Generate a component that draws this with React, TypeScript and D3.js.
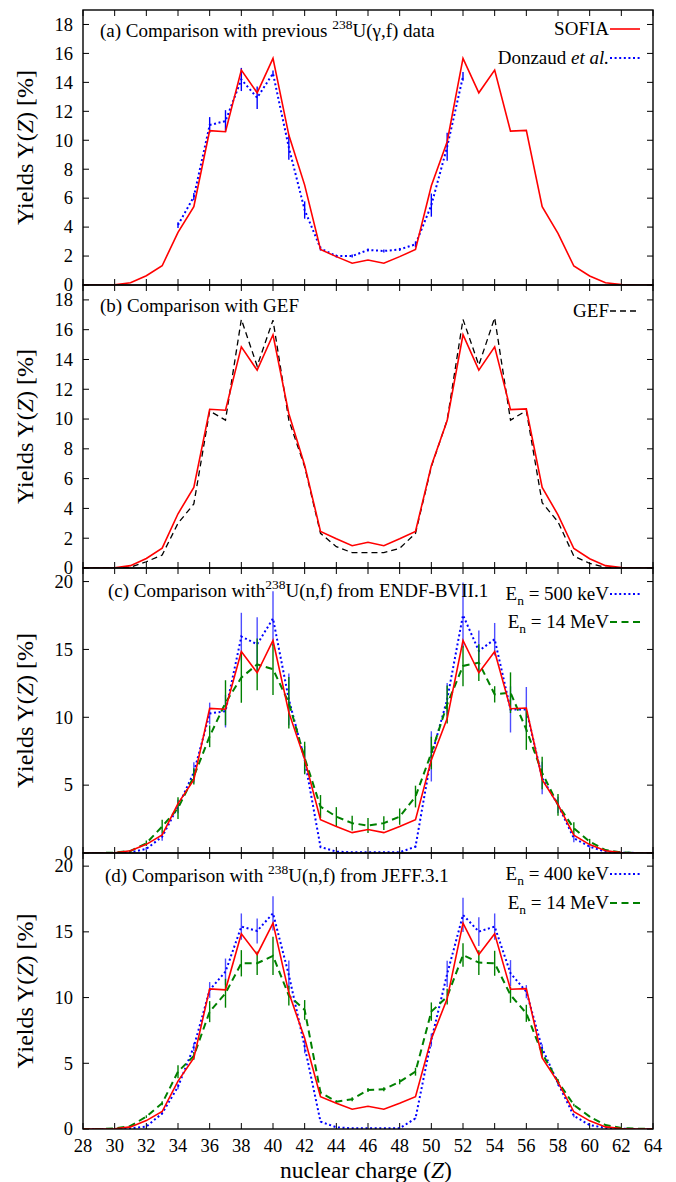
import React from "react";
import * as d3 from "d3";

// Nuclear charge grid
const Z: number[] = d3.range(28, 65);

// SOFIA 238U(gamma,f) charge yields [%]
const sofia: number[] = [
  0, 0, 0.02, 0.16, 0.64, 1.33, 3.64, 5.41, 10.66, 10.59, 14.85, 13.28, 15.66,
  10.36, 6.9, 2.46, 1.96, 1.5, 1.73, 1.5, 1.96, 2.46, 6.86, 9.9, 15.66, 13.28,
  14.85, 10.63, 10.68, 5.41, 3.57, 1.31, 0.62, 0.16, 0.03, 0, 0,
];

// Donzaud et al.
const donzaudZ: number[] = d3.range(34, 53);
const donzaud: number[] = [
  4.14, 6.1, 11.05, 11.33, 14.2, 12.94, 14.62, 9.5, 5.18, 2.53, 2.0, 2.0, 2.42,
  2.35, 2.46, 2.81, 5.52, 9.55, 14.41,
];
const donzaudErr: number[] = [
  0.2, 0.25, 0.55, 0.75, 0.8, 0.78, 0.2, 0.85, 0.6, 0.15, 0.1, 0.1, 0.1, 0.1,
  0.1, 0.2, 0.8, 0.97, 0.3,
];

// GEF
const gef: number[] = [
  0, 0, 0, 0.05, 0.42, 0.87, 3.0, 4.3, 10.54, 9.93, 16.69, 13.56, 16.64, 9.93,
  6.8, 2.33, 1.43, 1.03, 1.03, 1.03, 1.32, 2.33, 6.8, 9.93, 16.69, 13.62, 16.8,
  9.93, 10.56, 4.38, 3.1, 0.8, 0.31, 0.05, 0, 0, 0,
];

// ENDF/B-VII.1, En = 500 keV
const endf500: number[] = [
  0, 0, 0, 0.05, 0.3, 1.2, 3.42, 5.94, 10.28, 10.45, 15.95, 15.38, 17.28, 11.32,
  6.88, 0.45, 0.1, 0.05, 0.05, 0.05, 0.05, 0.47, 7.12, 11.32, 17.53, 14.89,
  15.75, 10.58, 10.58, 5.52, 3.55, 1.09, 0.47, 0.1, 0.03, 0, 0,
];
const endf500Err: number[] = [
  0, 0, 0, 0, 0.1, 0.3, 0.5, 0.74, 0.8, 1.2, 1.75, 2.0, 2.0, 1.9, 1.0, 0.1,
  0.02, 0.02, 0.02, 0.02, 0.02, 0.1, 1.85, 1.2, 2.4, 1.5, 1.2, 1.7, 1.65, 1.2,
  0.6, 0.3, 0.1, 0, 0, 0, 0,
];

// ENDF/B-VII.1, En = 14 MeV
const endf14: number[] = [
  0, 0, 0.03, 0.15, 0.72, 1.95, 3.3, 5.64, 8.6, 11.07, 12.92, 13.9, 13.54,
  11.07, 7.0, 3.42, 2.68, 2.2, 2.02, 2.2, 2.68, 4.16, 7.37, 10.95, 13.78, 14.03,
  11.69, 11.81, 9.1, 5.9, 3.55, 1.82, 0.84, 0.22, 0.05, 0, 0,
];
const endf14Err: number[] = [
  0, 0, 0, 0.05, 0.2, 0.5, 0.8, 0.6, 0.8, 1.66, 1.85, 1.9, 1.9, 1.9, 1.2, 0.85,
  0.7, 0.55, 0.55, 0.5, 0.6, 0.8, 1.2, 1.4, 1.5, 1.35, 0.6, 1.5, 1.5, 1.2, 0.8,
  0.45, 0.2, 0.05, 0, 0, 0,
];

// JEFF-3.1, En = 400 keV
const jeff400: number[] = [
  0, 0, 0, 0.05, 0.18, 1.19, 3.22, 6.26, 10.58, 11.97, 15.4, 15.07, 16.41,
  11.72, 6.26, 0.56, 0.13, 0.05, 0.05, 0.05, 0.05, 0.81, 6.77, 11.8, 16.29,
  15.02, 15.4, 11.85, 10.45, 6.14, 3.48, 1.0, 0.3, 0.08, 0.02, 0, 0,
];
const jeff400Err: number[] = [
  0, 0, 0, 0, 0, 0.1, 0.2, 0.3, 0.6, 1.0, 1.0, 0.95, 1.3, 1.1, 0.5, 0.05, 0, 0,
  0, 0, 0, 0.05, 0.5, 1.0, 1.3, 1.1, 1.0, 1.0, 0.5, 0.3, 0.2, 0.1, 0, 0, 0, 0,
  0,
];

// JEFF-3.1, En = 14 MeV
const jeff14: number[] = [
  0, 0, 0.05, 0.23, 0.94, 1.96, 4.36, 5.56, 8.93, 10.33, 12.61, 12.61, 13.17,
  10.15, 9.06, 2.77, 2.08, 2.26, 2.97, 3.02, 3.6, 4.36, 8.93, 10.07, 13.24,
  12.66, 12.61, 10.2, 8.8, 5.76, 3.6, 1.83, 0.94, 0.3, 0.08, 0.02, 0,
];
const jeff14Err: number[] = [
  0, 0, 0, 0.05, 0.1, 0.15, 0.5, 0.3, 0.8, 1.1, 1.0, 0.9, 1.45, 0.75, 0.75,
  0.15, 0.1, 0.15, 0.15, 0.15, 0.2, 0.3, 0.7, 0.6, 0.9, 0.95, 0.95, 0.6, 0.65,
  0.3, 0.2, 0.1, 0.05, 0, 0, 0, 0,
];

// Axis ticks
const xTicks: number[] = d3.range(28, 65, 2);
const yTicksAB: number[] = d3.range(0, 19, 2);
const yTicksCD: number[] = [0, 5, 10, 15, 20];

const FONT = "Liberation Serif, Times New Roman, DejaVu Serif, serif";
const RED = "#ff0000";
const BLUE = "#0000ff";
const GREEN = "#008000";

const W = 676;
const H = 1182;
const LEFT = 83;
const RIGHT = 653;
const LABEL_SIZE = 19;

const x = d3.scaleLinear().domain([28, 64]).range([LEFT, RIGHT]);

type Series = {
  zs: number[];
  values: number[];
  errs?: number[];
  color: string;
  width: number;
  dash?: string;
  errColor?: string;
};

type LegendItem = { label: React.ReactNode; color: string; width: number; dash?: string; y: number; baseline: number };

type PanelProps = {
  id: string;
  top: number;
  bottom: number;
  ymax: number;
  yTicks: number[];
  title: React.ReactNode;
  titleX: number;
  titleY: number;
  series: Series[];
  legend: LegendItem[];
  showX: boolean;
};

const txt: React.CSSProperties = { fontFamily: FONT };

function Panel(p: PanelProps) {
  const y = d3.scaleLinear().domain([0, p.ymax]).range([p.bottom, p.top]);
  const clipId = `clip-${p.id}`;
  const tickLen = 6;
  const mid = (p.top + p.bottom) / 2;
  return (
    <g>
      <defs>
        <clipPath id={clipId}>
          <rect x={LEFT} y={p.top} width={RIGHT - LEFT} height={p.bottom - p.top} />
        </clipPath>
      </defs>
      {/* ticks, inward on all four sides */}
      {xTicks.map((t) => (
        <g key={`xt${t}`} stroke="#000" strokeWidth={1}>
          <line x1={x(t)} x2={x(t)} y1={p.bottom} y2={p.bottom - tickLen} />
          <line x1={x(t)} x2={x(t)} y1={p.top} y2={p.top + tickLen} />
        </g>
      ))}
      {p.yTicks.map((t) => (
        <g key={`yt${t}`} stroke="#000" strokeWidth={1}>
          <line x1={LEFT} x2={LEFT + tickLen} y1={y(t)} y2={y(t)} />
          <line x1={RIGHT} x2={RIGHT - tickLen} y1={y(t)} y2={y(t)} />
        </g>
      ))}
      {p.yTicks.map((t) => (
        <text
          key={`yl${t}`}
          x={73}
          y={y(t)}
          dy="0.34em"
          textAnchor="end"
          style={txt}
          fontSize={18.5}
          fill="#000"
        >
          {t}
        </text>
      ))}
      {p.showX &&
        xTicks.map((t) => (
          <text
            key={`xl${t}`}
            x={x(t)}
            y={p.bottom + 23}
            textAnchor="middle"
            style={txt}
            fontSize={18.5}
            fill="#000"
          >
            {t}
          </text>
        ))}
      {/* y axis title */}
      <text
        transform={`translate(33,${mid}) rotate(-90)`}
        textAnchor="middle"
        style={txt}
        fontSize={24}
        fill="#000"
      >
        Yields Y(<tspan fontStyle="italic">Z</tspan>) [%]
      </text>
      {/* data */}
      <g clipPath={`url(#${clipId})`}>
        {p.series.map((s, si) => {
          const line = d3
            .line<number>()
            .x((_, i) => x(s.zs[i]))
            .y((d) => y(d));
          return (
            <g key={`s${si}`}>
              {s.errs &&
                s.values.map((v, i) =>
                  s.errs![i] > 0.04 ? (
                    <line
                      key={`e${i}`}
                      x1={x(s.zs[i])}
                      x2={x(s.zs[i])}
                      y1={y(v - s.errs![i])}
                      y2={y(v + s.errs![i])}
                      stroke={s.errColor ?? s.color}
                      strokeWidth={1.4}
                    />
                  ) : null
                )}
              <path
                d={line(s.values) ?? ""}
                fill="none"
                stroke={s.color}
                strokeWidth={s.width}
                strokeDasharray={s.dash}
                strokeLinejoin="miter"
              />
            </g>
          );
        })}
      </g>
      {/* frame */}
      <rect
        x={LEFT}
        y={p.top}
        width={RIGHT - LEFT}
        height={p.bottom - p.top}
        fill="none"
        stroke="#000"
        strokeWidth={1.4}
      />
      {/* panel title */}
      <text x={p.titleX} y={p.titleY} style={txt} fontSize={LABEL_SIZE} fill="#000">
        {p.title}
      </text>
      {/* legend */}
      {p.legend.map((l, i) => (
        <g key={`lg${i}`}>
          <text
            x={609}
            y={l.baseline}
            textAnchor="end"
            style={txt}
            fontSize={LABEL_SIZE}
            fill="#000"
          >
            {l.label}
          </text>
          <line
            x1={610}
            x2={640}
            y1={l.y}
            y2={l.y}
            stroke={l.color}
            strokeWidth={l.width}
            strokeDasharray={l.dash}
          />
        </g>
      ))}
    </g>
  );
}

const sup = (s: string) => (
  <tspan fontSize={13.5} dy={-8}>
    {s}
  </tspan>
);

const sub = (s: string) => (
  <tspan fontSize={13.5} dy={5}>
    {s}
  </tspan>
);

export default function App() {
  const redSeries: Series = { zs: Z, values: sofia, color: RED, width: 1.6 };
  const blueDots = "2,2.6";
  const greenDash = "7,4.5";
  const blackDash = "6,4";

  return (
    <svg width={W} height={H} style={{ display: "block", position: "absolute", left: 0, top: 0 }}>
      <rect width={W} height={H} fill="#fff" />
      <Panel
        id="a"
        top={10}
        bottom={285}
        ymax={19}
        yTicks={yTicksAB}
        titleX={100}
        titleY={37}
        title={
          <>
            (a) Comparison with previous {sup("238")}
            <tspan dy={8}>U(γ,f) data</tspan>
          </>
        }
        series={[
          {
            zs: donzaudZ,
            values: donzaud,
            errs: donzaudErr,
            color: BLUE,
            width: 2,
            dash: blueDots,
          },
          redSeries,
        ]}
        legend={[
          { label: "SOFIA", color: RED, width: 1.6, y: 29, baseline: 35 },
          {
            label: (
              <>
                Donzaud <tspan fontStyle="italic">et al.</tspan>
              </>
            ),
            color: BLUE,
            width: 2,
            dash: blueDots,
            y: 58,
            baseline: 64,
          },
        ]}
        showX={false}
      />
      <Panel
        id="b"
        top={285}
        bottom={568}
        ymax={19}
        yTicks={yTicksAB}
        titleX={100}
        titleY={312}
        title={<>(b) Comparison with GEF</>}
        series={[{ zs: Z, values: gef, color: "#000", width: 1.3, dash: blackDash }, redSeries]}
        legend={[{ label: "GEF", color: "#000", width: 1.3, dash: blackDash, y: 311, baseline: 317 }]}
        showX={false}
      />
      <Panel
        id="c"
        top={568}
        bottom={853}
        ymax={21}
        yTicks={yTicksCD}
        titleX={108}
        titleY={597}
        title={
          <>
            (c) Comparison with{sup("238")}
            <tspan dy={8}>U(n,f) from ENDF-BVII.1</tspan>
          </>
        }
        series={[
          { zs: Z, values: endf500, errs: endf500Err, color: BLUE, width: 2, dash: blueDots, errColor: "#4d4dff" },
          { zs: Z, values: endf14, errs: endf14Err, color: GREEN, width: 2, dash: greenDash },
          redSeries,
        ]}
        legend={[
          {
            label: (
              <>
                E{sub("n")}
                <tspan dy={-5}> = 500 keV</tspan>
              </>
            ),
            color: BLUE,
            width: 2,
            dash: blueDots,
            y: 594,
            baseline: 600,
          },
          {
            label: (
              <>
                E{sub("n")}
                <tspan dy={-5}> = 14 MeV</tspan>
              </>
            ),
            color: GREEN,
            width: 2,
            dash: greenDash,
            y: 622,
            baseline: 628,
          },
        ]}
        showX={false}
      />
      <Panel
        id="d"
        top={853}
        bottom={1129}
        ymax={21}
        yTicks={yTicksCD}
        titleX={105}
        titleY={882}
        title={
          <>
            (d) Comparison with {sup("238")}
            <tspan dy={8}>U(n,f) from JEFF.3.1</tspan>
          </>
        }
        series={[
          { zs: Z, values: jeff400, errs: jeff400Err, color: BLUE, width: 2, dash: blueDots, errColor: "#4d4dff" },
          { zs: Z, values: jeff14, errs: jeff14Err, color: GREEN, width: 2, dash: greenDash },
          redSeries,
        ]}
        legend={[
          {
            label: (
              <>
                E{sub("n")}
                <tspan dy={-5}> = 400 keV</tspan>
              </>
            ),
            color: BLUE,
            width: 2,
            dash: blueDots,
            y: 874,
            baseline: 880,
          },
          {
            label: (
              <>
                E{sub("n")}
                <tspan dy={-5}> = 14 MeV</tspan>
              </>
            ),
            color: GREEN,
            width: 2,
            dash: greenDash,
            y: 903,
            baseline: 909,
          },
        ]}
        showX={true}
      />
      <text
        x={366}
        y={1178}
        textAnchor="middle"
        style={txt}
        fontSize={23.5}
        fill="#000"
      >
        nuclear charge (<tspan fontStyle="italic">Z</tspan>)
      </text>
    </svg>
  );
}
